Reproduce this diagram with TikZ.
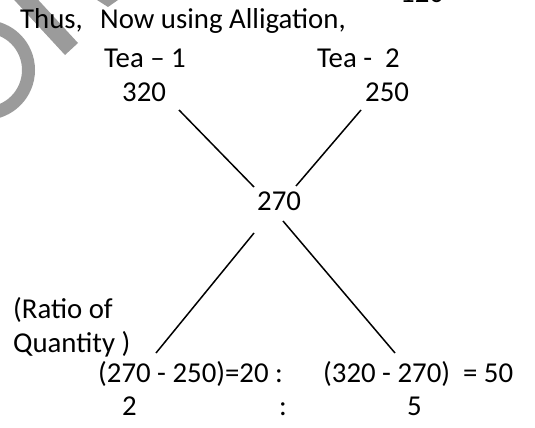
\documentclass[tikz,border=0pt]{standalone}
\usepackage{fontspec}
\setmainfont{Carlito}
\begin{document}
\begin{tikzpicture}[x=1pt,y=-1pt,
  lbl/.style={anchor=base west,inner sep=0pt,font=\fontsize{28.8}{34}\selectfont},
  link/.style={line width=1.5pt,black},
  wm/.style={color=wmgray}]
\definecolor{wmgray}{RGB}{155,155,155}
\useasboundingbox (0,0) rectangle (535,428);
\clip (0,0) rectangle (535,428);
% watermark fragments
\draw[wm,line width=13pt] (-15,70) circle[radius=43.5];
\draw[wm,line width=17.7pt] (3.7,-24.5) -- (71.5,49);
\fill[wm] (97,0) -- (108,7) -- (118,0) -- cycle;
% texts
\node[lbl] (top) at (400,3) {120};
\node[lbl] (thus) at (20,29) {Thus,};
\node[lbl] (now) at (100,29) {Now using Alligation,};
\node[lbl] (tea1) at (104,67) {Tea – 1};
\node[lbl] (tea2) at (317,67) {Tea -~\ 2};
\node[lbl] (n320) at (122,101) {320};
\node[lbl] (n250) at (365,101) {250};
\node[lbl] (n270) at (257,210) {270};
\node[lbl] (ratio1) at (13,318) {(Ratio of};
\node[lbl] (ratio2) at (13,352) {Quantity )};
\node[lbl] (diffL) at (98,382) {(270 - 250)=20 :};
\node[lbl] (diffR) at (323,382) {(320 - 270)~\ = 50};
\node[lbl] (r2) at (122,415) {2};
\node[lbl] (rc) at (279,415) {:};
\node[lbl] (r5) at (407,415) {5};
% connector end points
\coordinate (a320) at (179,110);
\coordinate (b320) at (254,187);
\coordinate (a250) at (361,110);
\coordinate (b250) at (296,186);
\coordinate (aL) at (254,233);
\coordinate (bL) at (156,353);
\coordinate (aR) at (283,221);
\coordinate (bR) at (395,353);
\draw[link] (a320) -- (b320);
\draw[link] (a250) -- (b250);
\draw[link] (aL) -- (bL);
\draw[link] (aR) -- (bR);
\end{tikzpicture}
\end{document}
